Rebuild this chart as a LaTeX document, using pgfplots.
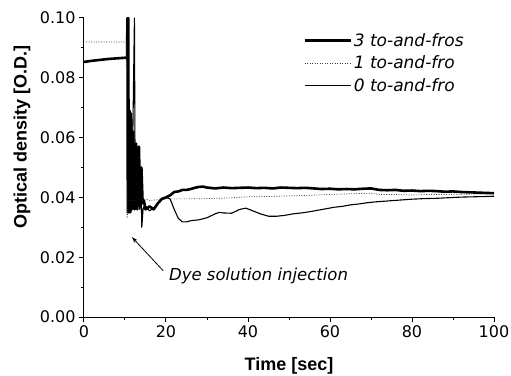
\documentclass[border=0pt]{standalone}
\usepackage{fontspec}
\setmainfont{DejaVu Sans}
\newfontfamily\labelfont{Liberation Sans}
\usepackage{pgfplots}
\pgfplotsset{compat=1.18}
\usetikzlibrary{arrows.meta}
\begin{document}
\begin{tikzpicture}
\begin{axis}[
  at={(0,0)}, anchor=south west,
  scale only axis, width=410bp, height=299bp,
  xmin=0, xmax=100, ymin=0, ymax=0.10,
  axis lines=left, axis line style={-, line width=1bp},
  xtick={0,20,40,60,80,100},
  ytick={0,0.02,0.04,0.06,0.08,0.10},
  minor x tick num=1, minor y tick num=1,
  tick align=outside, major tick length=5bp, minor tick length=3bp,
  every tick/.style={line width=1bp, black},
  scaled y ticks=false,
  yticklabel style={/pgf/number format/.cd, fixed, fixed zerofill, precision=2},
  /pgf/number format/assume math mode=true,
  tick label style={font=\fontsize{16bp}{19bp}\selectfont},
  xlabel={Time [sec]}, ylabel={Optical density [O.D.]},
  label style={font=\labelfont\bfseries\fontsize{18bp}{21bp}\selectfont},
  xlabel style={at={(axis description cs:0.5,-0.162)}, anchor=center},
  ylabel style={at={(axis description cs:-0.151,0.602)}, anchor=center},
  legend style={draw=none, fill=none, at={(axis description cs:0.527,0.962)}, anchor=north west,
    font=\itshape\fontsize{17bp}{19bp}\selectfont, row sep=4bp,
    /tikz/every even column/.append style={column sep=9bp}},
  legend cell align=left,
  legend image code/.code={\draw[#1] (0bp,0bp) -- (46bp,0bp);},
]
\addplot[black, line width=2.6bp, line join=round] coordinates {
(0,0.0853) (2,0.0857) (4,0.0860) (6,0.0863) (8,0.0865) (10,0.0867) (10.5,0.0868)
(10.6,0.100) (10.7,0.035) (10.8,0.100) (10.9,0.035) (11.1,0.069) (11.3,0.035)
(11.5,0.068) (11.7,0.036) (12.0,0.062) (12.3,0.036) (12.7,0.058) (13.0,0.036)
(13.4,0.057) (13.7,0.037) (14.0,0.050) (14.3,0.038) (14.6,0.039) (15.0,0.036)
(15.5,0.0365) (16.0,0.037) (17.0,0.036) (18.0,0.038) (19.0,0.0395) (20.0,0.040)
(21.0,0.0407) (22,0.0418) (23,0.042) (24,0.0425) (25,0.0425) (26,0.0428) (27,0.0432)
(28,0.0435) (29,0.0436) (30,0.0433) (32,0.0430) (34,0.0433) (36,0.0431) (38,0.0432)
(40,0.0433) (42,0.0431) (44,0.0432) (46,0.0430) (48,0.0433) (50,0.0432) (52,0.0431)
(54,0.0432) (56,0.0430) (58,0.0428) (60,0.0429) (62,0.0427) (64,0.0428) (66,0.0427)
(68,0.0429) (70,0.0430) (72,0.0425) (74,0.0424) (76,0.0425) (78,0.0422) (80,0.0423)
(82,0.0421) (84,0.0422) (86,0.0421) (88,0.0419) (90,0.0420) (92,0.0418) (94,0.0417)
(96,0.0416) (98,0.0415) (100,0.0414)
};
\addlegendentry{3 to-and-fros}
\addplot[black!75, line width=0.7bp, dash pattern=on 1bp off 1.5bp] coordinates {
(0.5,0.092) (10.3,0.092) (10.5,0.033) (11,0.039) (14,0.039) (15,0.0395) (16,0.039)
(18,0.0392) (20,0.0395) (25,0.0395) (30,0.0396) (35,0.0398) (40,0.0402) (45,0.0403)
(50,0.0405) (55,0.0407) (60,0.0410) (65,0.0412) (70,0.0414) (72,0.0410) (75,0.0410)
(80,0.0408) (85,0.0410) (90,0.0410) (95,0.0411) (100,0.0412)
};
\addlegendentry{1 to-and-fro}
\addplot[black, line width=1.1bp, line join=round] coordinates {
(10.8,0.036) (11.2,0.050) (11.5,0.036) (11.9,0.060) (12.3,0.100) (12.5,0.036)
(12.8,0.055) (13.0,0.036) (13.3,0.057) (13.6,0.036) (13.9,0.045) (14.1,0.030)
(14.4,0.036) (14.8,0.0375) (15.3,0.0365) (16,0.0355) (17,0.0365) (18,0.038)
(19,0.0395) (20,0.0400) (21,0.0395) (22,0.036) (23,0.033) (24,0.0318) (25,0.0318)
(26,0.0322) (28,0.0325) (30,0.0332) (32,0.0345) (33,0.0350) (34,0.0348) (36,0.0347)
(38,0.0360) (39.5,0.0364) (41,0.0356) (43,0.0345) (45,0.0337) (47,0.0337) (49,0.0340)
(51,0.0345) (53,0.0348) (55,0.0352) (57,0.0357) (59,0.0362) (61,0.0367) (63,0.0370)
(65,0.0375) (67,0.0378) (69,0.0382) (71,0.0385) (73,0.0387) (75,0.0389) (77,0.0391)
(80,0.0394) (83,0.0396) (86,0.0397) (89,0.0399) (92,0.0401) (95,0.0402) (98,0.0403)
(100,0.0404)
};
\addlegendentry{0 to-and-fro}
\draw[-{Stealth[length=6bp,width=4bp]}, line width=0.8bp] (axis cs:19.3,0.0155) -- (axis cs:11.7,0.0267);
\node[font=\itshape\fontsize{16.5bp}{19bp}\selectfont, anchor=west, inner sep=0pt] at (axis cs:20.7,0.0138) {Dye solution injection};
\end{axis}
\pgfresetboundingbox
\path[use as bounding box] (-84bp,-59bp) rectangle (427bp,317bp);
\end{tikzpicture}
\end{document}
